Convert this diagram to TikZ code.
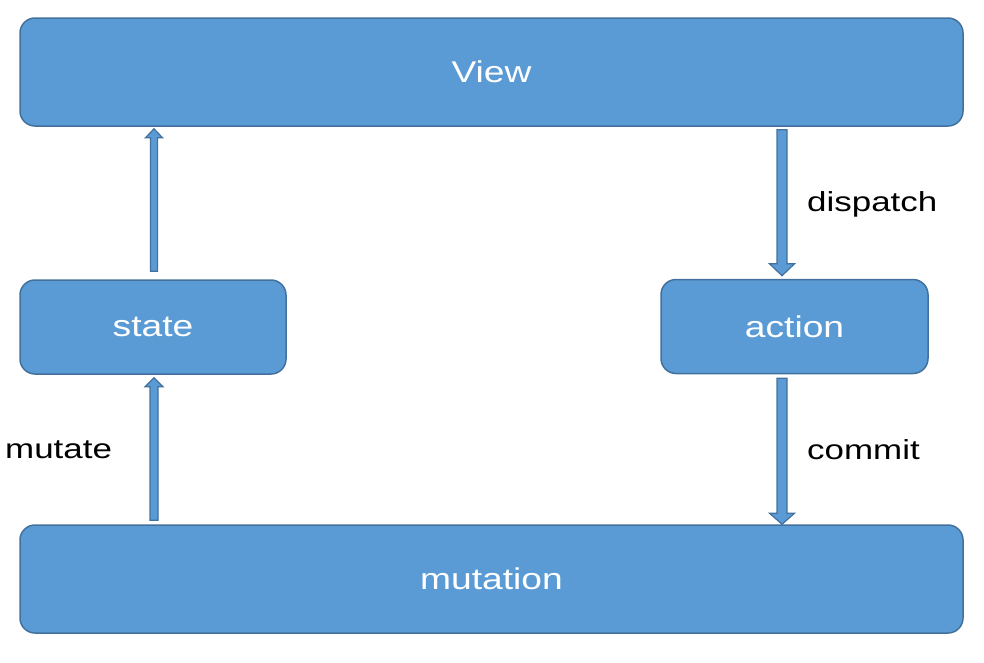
\documentclass[tikz,border=0pt]{standalone}
\usepackage{fontspec}
\setmainfont{Liberation Sans}
\usetikzlibrary{calc}
\definecolor{boxfill}{HTML}{5B9BD5}
\definecolor{boxline}{HTML}{41719C}
\tikzset{
  box/.style={draw=boxline, line width=1.5pt, fill=boxfill, rounded corners=15pt,
    text=white, inner sep=0pt, font=\fontsize{30}{34}\selectfont},
  barrow/.style={draw=boxline, line width=1.2pt, fill=boxfill, line join=miter},
  lbl/.style={anchor=base west, inner sep=0pt, font=\fontsize{27.5}{32}\selectfont, text=black}
}
\newcommand\wide[1]{\scalebox{1.24}[1]{#1}}
\newcommand\widel[1]{\scalebox{1.27}[1]{#1}}
\newcommand\blockarrow[5]{%
  \coordinate (hb) at ($(#2)!#5!(#1)$);
  \draw[barrow] ($(#1)!#3!90:(#2)$) -- ($(hb)!#3!90:(#2)$) -- ($(hb)!#4!90:(#2)$)
    -- (#2) -- ($(hb)!#4!-90:(#2)$) -- ($(hb)!#3!-90:(#2)$) -- ($(#1)!#3!-90:(#2)$) -- cycle;
}
\begin{document}
\begin{tikzpicture}[x=1pt,y=-1pt]
\useasboundingbox (0,0) rectangle (984,662);
\node[box, minimum width=943pt, minimum height=108pt] (view) at (491.5,72) {\wide{View}};
\node[box, minimum width=266pt, minimum height=94pt] (state) at (153,327) {\wide{state}};
\node[box, minimum width=267pt, minimum height=94pt] (action) at (794.5,326.5) {\wide{action}};
\node[box, minimum width=943pt, minimum height=108pt] (mutation) at (491.5,579) {\wide{mutation}};

% state -> View
\coordinate (a1s) at ($(state.north)+(1,-8)$);
\coordinate (a1t) at ($(view.south -| a1s)+(0,2)$);
\blockarrow{a1s}{a1t}{3.5pt}{8.5pt}{9pt}
% View -> action (dispatch)
\coordinate (a2s) at ($(view.south -| action.north)+(-12.5,3)$);
\coordinate (a2t) at ($(action.north)+(-12.5,-3)$);
\blockarrow{a2s}{a2t}{5pt}{12.5pt}{12pt}
% mutation -> state (mutate)
\coordinate (a3s) at ($(mutation.north -| a1s)+(0,-4)$);
\coordinate (a3t) at ($(state.south -| a1s)+(0,3)$);
\blockarrow{a3s}{a3t}{4pt}{9pt}{9pt}
% action -> mutation (commit)
\coordinate (a4s) at ($(action.south)+(-12.5,4)$);
\coordinate (a4t) at (mutation.north -| a4s);
\blockarrow{a4s}{a4t}{5pt}{12.5pt}{11pt}

\node[lbl] (ldispatch) at (807,211.5) {\widel{dispatch}};
\node[lbl] (lcommit) at (807,459.5) {\widel{commit}};
\node[lbl] (lmutate) at (5,458.5) {\widel{mutate}};
\end{tikzpicture}
\end{document}
